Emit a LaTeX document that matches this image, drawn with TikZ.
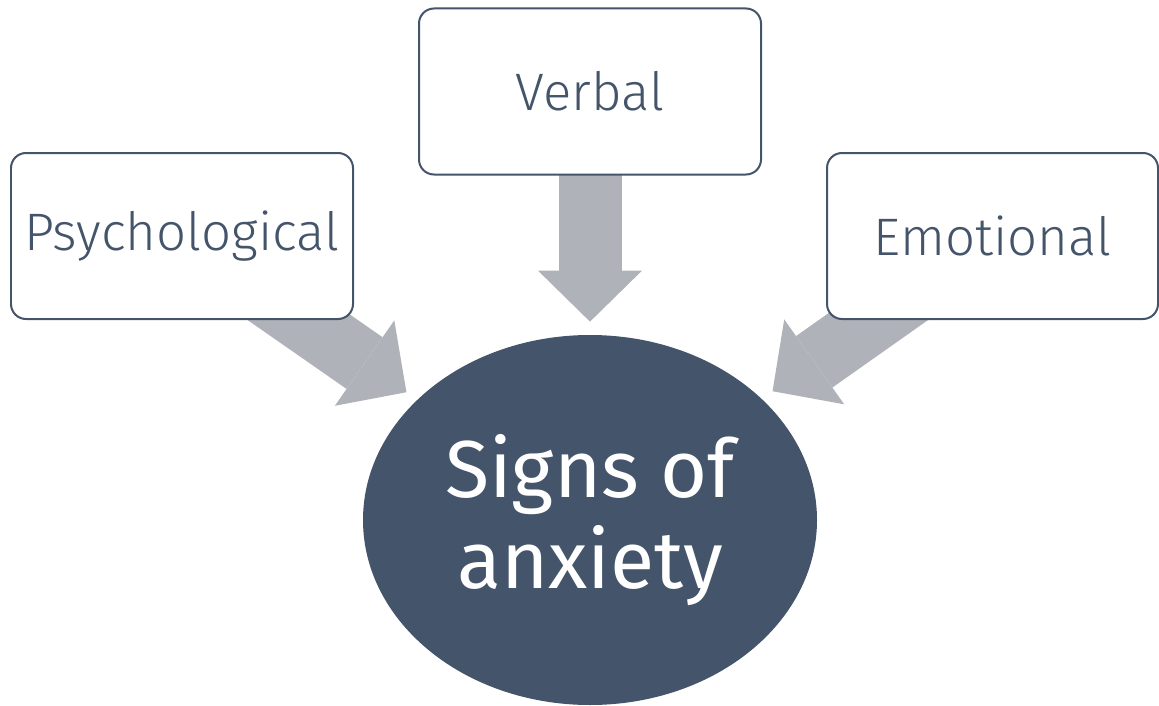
\documentclass[tikz,border=0pt]{standalone}
\usepackage{fontspec}
\setsansfont{Fira Sans Light}
\newfontfamily\coresans{Fira Sans}
\usetikzlibrary{arrows.meta, positioning, backgrounds, shapes.geometric}
\definecolor{slate}{HTML}{44546A}
\definecolor{arrowgray}{HTML}{AFB2B8}

\begin{document}
\begin{tikzpicture}[
        %% Grid: 1px of the sketch = 0.02cm; y measured from the bottom edge.
        signbox/.style={rectangle, rounded corners=0.3cm, draw=slate, line width=0.04cm, fill=white, minimum width=6.84cm, minimum height=3.32cm, align=center, text=slate, font=\sffamily\fontsize{30}{36}\selectfont},
        core/.style={ellipse, fill=slate, inner sep=0pt, minimum width=9.08cm, minimum height=7.4cm, align=center, text=white, font=\coresans\fontsize{46}{52}\selectfont},
        blockarrow/.style={draw=arrowgray, line width=1.26cm, -{Triangle[width=2.08cm, length=1.02cm, line width=0pt, fill=arrowgray]}, shorten >=0.26cm}
    ]
    \useasboundingbox (0,0) rectangle (23.18,14.1);

    %% --- Centre ---
    \node[core] (anxiety) at (11.8, 3.7) {Signs of\\anxiety};

    %% --- Three kinds of signs ---
    \node[signbox] (psych)   at (3.64, 9.38)  {Psychological};
    \node[signbox] (verbal)  at (11.8, 12.27) {Verbal};
    \node[signbox, minimum width=6.62cm] (emotion) at (19.85, 9.38) {Emotional};

    %% --- Block arrows run from behind each box into the ellipse ---
    \begin{scope}[on background layer]
        \draw[blockarrow] (psych.center)   -- (anxiety);
        \draw[blockarrow] (verbal.center)  -- (anxiety);
        \draw[blockarrow] (emotion.center) -- (anxiety);
    \end{scope}
\end{tikzpicture}
\end{document}
